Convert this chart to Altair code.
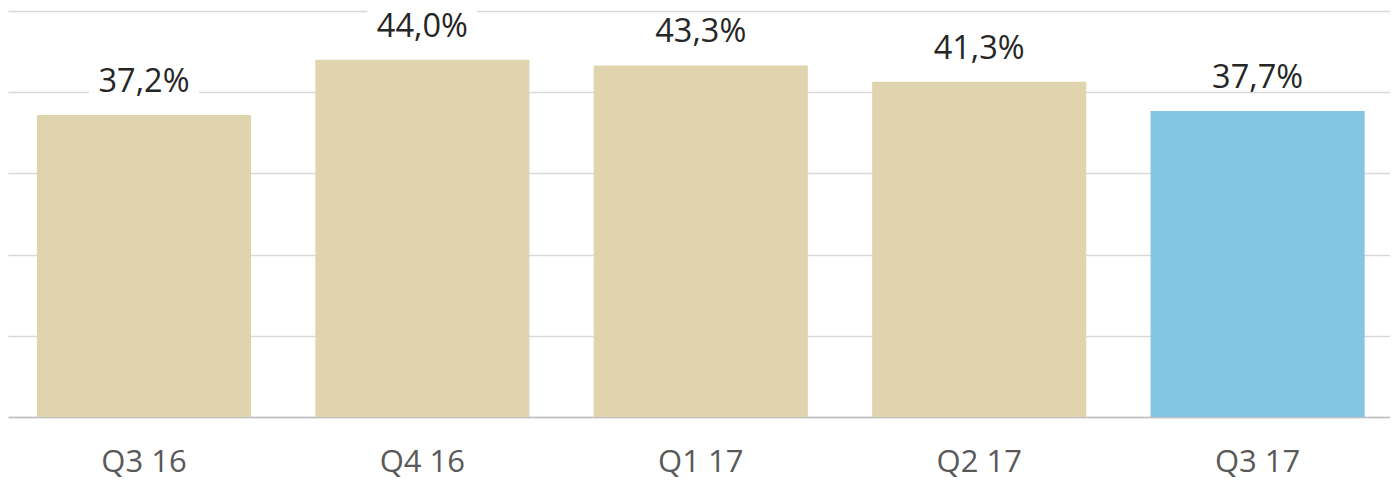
import altair as alt
import pandas as pd

quarters = ["Q3 16", "Q4 16", "Q1 17", "Q2 17", "Q3 17"]
values = [37.2, 44.0, 43.3, 41.3, 37.7]
labels = ["37,2%", "44,0%", "43,3%", "41,3%", "37,7%"]
colors = ["#E0D4AE", "#E0D4AE", "#E0D4AE", "#E0D4AE", "#85C5E4"]

df = pd.DataFrame({"q": quarters, "v": values, "lab": labels, "col": colors})

x = alt.X("q:N", sort=quarters, title=None,
          scale=alt.Scale(paddingInner=0.231, paddingOuter=0.0975, align=0.533),
          axis=alt.Axis(labelAngle=0, labelFont="Open Sans", labelFontSize=31,
                        labelColor="#595959", labelPadding=30, ticks=False,
                        domainColor="#BFBFBF", domainWidth=1.5, grid=False))
y = alt.Y("v:Q", title=None, scale=alt.Scale(domain=[0, 50]),
          axis=alt.Axis(values=[0, 10, 20, 30, 40, 50], labels=False, ticks=False,
                        domain=False, gridColor="#D9D9D9", gridWidth=1.5))

bars = alt.Chart(df).mark_bar().encode(x=x, y=y, color=alt.Color("col:N", scale=None))
boxes = alt.Chart(df).mark_tick(color="white", opacity=1, size=110, thickness=30,
                                yOffset=-35).encode(x=x, y=y)
text = alt.Chart(df).mark_text(font="Open Sans", fontSize=32.5, color="#262626",
                               baseline="alphabetic", dy=-23).encode(x=x, y=y, text="lab:N")

chart = (bars + boxes + text).properties(
    width=1382, height=406,
    padding={"top": 1, "left": 0, "right": 0, "bottom": 4},
).configure_view(stroke=None)

chart.save("out.html", embed_options={"renderer": "svg", "actions": False})
